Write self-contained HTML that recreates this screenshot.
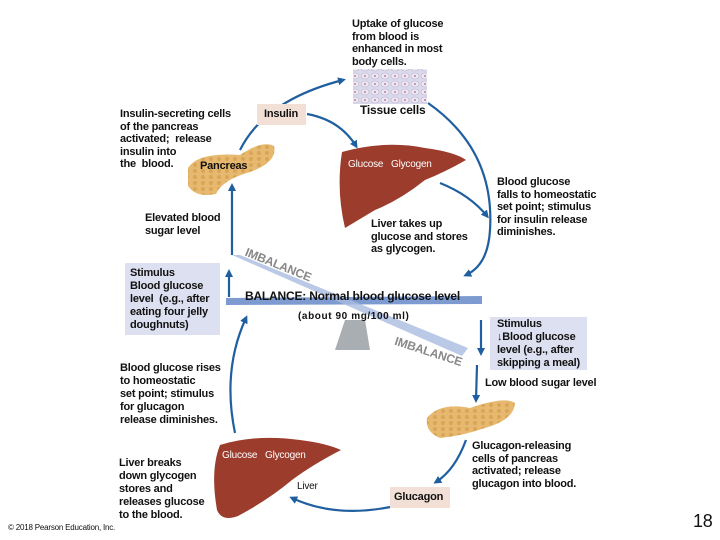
<!DOCTYPE html>
<html><head><meta charset="utf-8"><style>
body{margin:0;width:720px;height:540px;background:#fff;position:relative;overflow:hidden;font-family:"Liberation Sans",Arial,sans-serif;}
.t{position:absolute;font-size:11px;font-weight:bold;line-height:12.5px;color:#111;white-space:nowrap;letter-spacing:-0.2px}
.w{color:#fff;font-weight:normal;font-size:10px}
</style></head><body>
<svg width="720" height="540" style="position:absolute;left:0;top:0">
<defs>
<marker id="a" markerWidth="8" markerHeight="8" refX="5" refY="4" orient="auto" markerUnits="userSpaceOnUse"><path d="M0,0 L8,4 L0,8 z" fill="#1f5f9f"/></marker>
<pattern id="p" width="8" height="6" patternUnits="userSpaceOnUse"><rect width="8" height="6" fill="#e7b970"/><circle cx="3" cy="3" r="2" fill="#d9a656"/></pattern>
<pattern id="c" width="10" height="8" patternUnits="userSpaceOnUse"><rect width="10" height="8" fill="#dcd9ea"/><ellipse cx="5" cy="4" rx="4" ry="3" fill="#ece9f3" stroke="#bdb6d4" stroke-width="0.6"/><circle cx="5" cy="4" r="1" fill="#c07aa4"/></pattern>
</defs>
<g fill="none" stroke="#1f5f9f" stroke-width="2.2">
<path d="M240,150 Q265,100 343,80" marker-end="url(#a)"/>
<path d="M307,114 Q340,120 356,146" marker-end="url(#a)"/>
<path d="M428,103 Q495,150 490,230 Q488,265 466,275" marker-end="url(#a)"/>
<path d="M440,183 Q470,195 487,216" marker-end="url(#a)"/>
<path d="M232,255 L232,186" marker-end="url(#a)"/>
<path d="M229,297 L229,272" marker-end="url(#a)"/>
<path d="M235,433 Q222,370 246,318" marker-end="url(#a)"/>
<path d="M481,320 L481,353" marker-end="url(#a)"/>
<path d="M477,365 L476,400" marker-end="url(#a)"/>
<path d="M466,440 Q455,470 436,482" marker-end="url(#a)"/>
<path d="M390,507 Q335,518 292,498" marker-end="url(#a)"/>
</g>
<rect x="353" y="69" width="74" height="35" fill="url(#c)"/>
<rect x="257" y="104" width="49" height="21" fill="#f2e0d6"/>
<rect x="125" y="263" width="95" height="72" fill="#dde0f0"/>
<rect x="490" y="317" width="97" height="53" fill="#dde0f0"/>
<rect x="390" y="487" width="60" height="21" fill="#f2e0d6"/>
<path d="M188,168 Q198,152 240,155 Q262,140 274,146 Q278,162 250,172 Q222,180 216,194 Q196,198 188,186 z" fill="url(#p)"/>
<path d="M427,418 Q440,402 470,408 Q505,396 515,403 Q514,420 485,428 Q462,436 440,438 Q425,432 427,418 z" fill="url(#p)"/>
<path d="M342,152 Q385,140 425,148 Q455,152 466,160 Q445,172 425,180 Q400,200 375,210 Q355,222 345,228 Q336,190 342,152 z" fill="#9c3c2c"/>
<path d="M220,445 Q255,434 300,440 Q325,443 341,450 Q312,465 292,480 Q268,500 238,516 Q222,522 217,510 Q210,470 220,445 z" fill="#9c3c2c"/>
<polygon points="335,350 370,350 365,320 345,320" fill="#a9aeb3"/>
<polygon points="226,298 482,296 482,304 226,305" fill="#7d9bd0"/>
<polygon points="232,255 240,255 468,348 462,356" fill="#a7bbe0" opacity="0.8"/>
</svg>
<div class="t" style="left:352px;top:18px">Uptake of glucose<br>from blood is<br>enhanced in most<br>body cells.</div>
<div class="t" style="left:360px;top:104px;font-size:12px">Tissue cells</div>
<div class="t" style="left:264px;top:108px">Insulin</div>
<div class="t" style="left:120px;top:108px">Insulin-secreting cells<br>of the pancreas<br>activated;&nbsp; release<br>insulin into<br>the&nbsp; blood.</div>
<div class="t" style="left:200px;top:160px">Pancreas</div>
<div class="t w" style="left:348px;top:159px">Glucose&nbsp;&nbsp; Glycogen</div>
<div class="t" style="left:497px;top:176px">Blood glucose<br>falls to homeostatic<br>set point; stimulus<br>for insulin release<br>diminishes.</div>
<div class="t" style="left:145px;top:212px">Elevated blood<br>sugar level</div>
<div class="t" style="left:371px;top:218px">Liver takes up<br>glucose and stores<br>as glycogen.</div>
<div class="t" style="left:248px;top:246px;color:#888;transform:rotate(22deg);transform-origin:left top;font-size:12px">IMBALANCE</div>
<div class="t" style="left:130px;top:267px;line-height:13px">Stimulus<br>Blood glucose<br>level&nbsp; (e.g., after<br>eating four jelly<br>doughnuts)</div>
<div class="t" style="left:245px;top:290px;font-size:12px">BALANCE: Normal blood glucose level</div>
<div class="t" style="left:298px;top:311px;font-size:10px;letter-spacing:0.6px">(about 90 mg/100 ml)</div>
<div class="t" style="left:397px;top:335px;color:#888;transform:rotate(18deg);transform-origin:left top;font-size:12px">IMBALANCE</div>
<div class="t" style="left:497px;top:318px;line-height:13px">Stimulus<br>↓Blood glucose<br>level (e.g., after<br>skipping a meal)</div>
<div class="t" style="left:120px;top:362px;line-height:13px">Blood glucose rises<br>to homeostatic<br>set point; stimulus<br>for glucagon<br>release diminishes.</div>
<div class="t" style="left:485px;top:377px">Low blood sugar level</div>
<div class="t" style="left:472px;top:440px">Glucagon-releasing<br>cells of pancreas<br>activated; release<br>glucagon into blood.</div>
<div class="t w" style="left:222px;top:450px">Glucose&nbsp;&nbsp; Glycogen</div>
<div class="t" style="left:297px;top:481px;font-weight:normal;font-size:10px">Liver</div>
<div class="t" style="left:394px;top:491px">Glucagon</div>
<div class="t" style="left:119px;top:457px;line-height:13px">Liver breaks<br>down glycogen<br>stores and<br>releases glucose<br>to the blood.</div>
<div class="t" style="left:8px;top:522px;font-weight:normal;font-size:8px">© 2018 Pearson Education, Inc.</div>
<div class="t" style="left:693px;top:515px;font-weight:normal;font-size:18px">18</div>
</body></html>
